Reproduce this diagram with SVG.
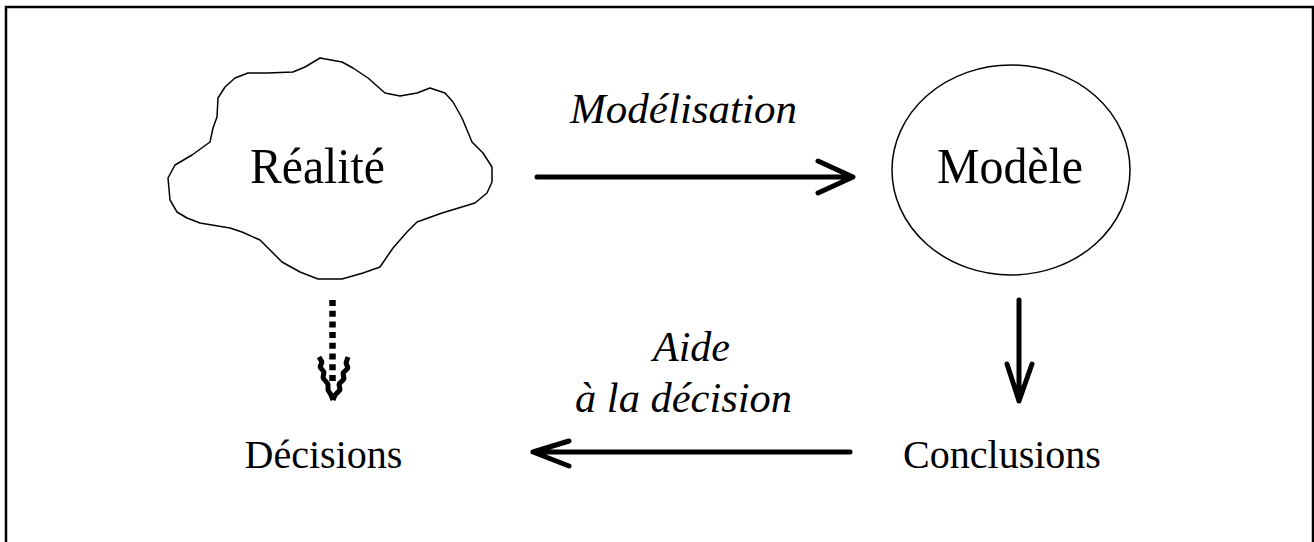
<svg xmlns="http://www.w3.org/2000/svg" width="1314" height="542" viewBox="0 0 1314 542">
<style>
.frame{fill:none;stroke:#000;stroke-width:2.5}
.shape{fill:#fff;stroke:#000;stroke-width:1.5;stroke-linejoin:round}
.big{font-family:"Liberation Serif","Times New Roman",serif;font-size:51px;fill:#000;text-anchor:middle}
.lbl{font-family:"Liberation Serif","Times New Roman",serif;font-size:40px;fill:#000;text-anchor:middle}
.it{font-family:"Liberation Serif","Times New Roman",serif;font-style:italic;font-size:43px;fill:#000;text-anchor:middle}
.arr{fill:none;stroke:#000;stroke-width:5;stroke-linecap:round;stroke-linejoin:round}
.dot{fill:none;stroke:#000;stroke-width:6.5;stroke-dasharray:6 4.7}
.jag{fill:none;stroke:#000;stroke-width:5;stroke-linejoin:bevel}
</style>
<rect width="1314" height="542" fill="#fff"/>
<path class="frame" d="M6,545 V7 H1313 V545"/>
<g id="realite">
<polygon class="shape" points="320,58 342,62 353,68 368,78 385,93 400,96 417,93 430,88 445,93 453,102 462,118 472,142 483,153 492,167 492,182 487,193 475,203 442,213 417,222 407,232 393,248 380,267 363,273 342,279 318,279 300,272 282,262 270,250 260,240 242,232 230,228 200,223 187,218 177,212 170,200 168,178 175,165 192,155 210,142 213,128 217,117 218,98 225,87 235,78 248,73 267,73 293,72 305,67"/>
<text class="big" x="317.5" y="183" textLength="135" lengthAdjust="spacingAndGlyphs">Réalité</text>
</g>
<g id="modele">
<ellipse class="shape" cx="1011" cy="170" rx="119" ry="105"/>
<text class="big" x="1010" y="183" textLength="146" lengthAdjust="spacingAndGlyphs">Modèle</text>
</g>
<g id="decisions">
<text class="lbl" x="323.5" y="468">Décisions</text>
</g>
<g id="conclusions">
<text class="lbl" x="1002" y="468">Conclusions</text>
</g>
<g id="connectors">
<path class="arr" d="M537,177 H852 M818,161 L853,177 L818,193"/>
<text class="it" x="683.5" y="123" textLength="227" lengthAdjust="spacingAndGlyphs">Modélisation</text>
<path class="arr" d="M1019,300 V401 M1007,364 L1019,401 L1032,364"/>
<path class="arr" d="M850,452 H533 M569,441 L533,452 L569,466"/>
<text class="it" x="691.5" y="361" textLength="77" lengthAdjust="spacingAndGlyphs">Aide</text>
<text class="it" x="683.5" y="412" textLength="217" lengthAdjust="spacingAndGlyphs">à la décision</text>
<line class="dot" x1="332.5" y1="300" x2="332.5" y2="382"/>
<polyline class="jag" points="319,357 322,362 320,367 324,372 323,378 328,384 328,390 331,395 333,400"/>
<polyline class="jag" points="348,357 346,363 348,368 343,373 344,379 339,384 340,390 335,395 333,400"/>
</g>
</svg>
